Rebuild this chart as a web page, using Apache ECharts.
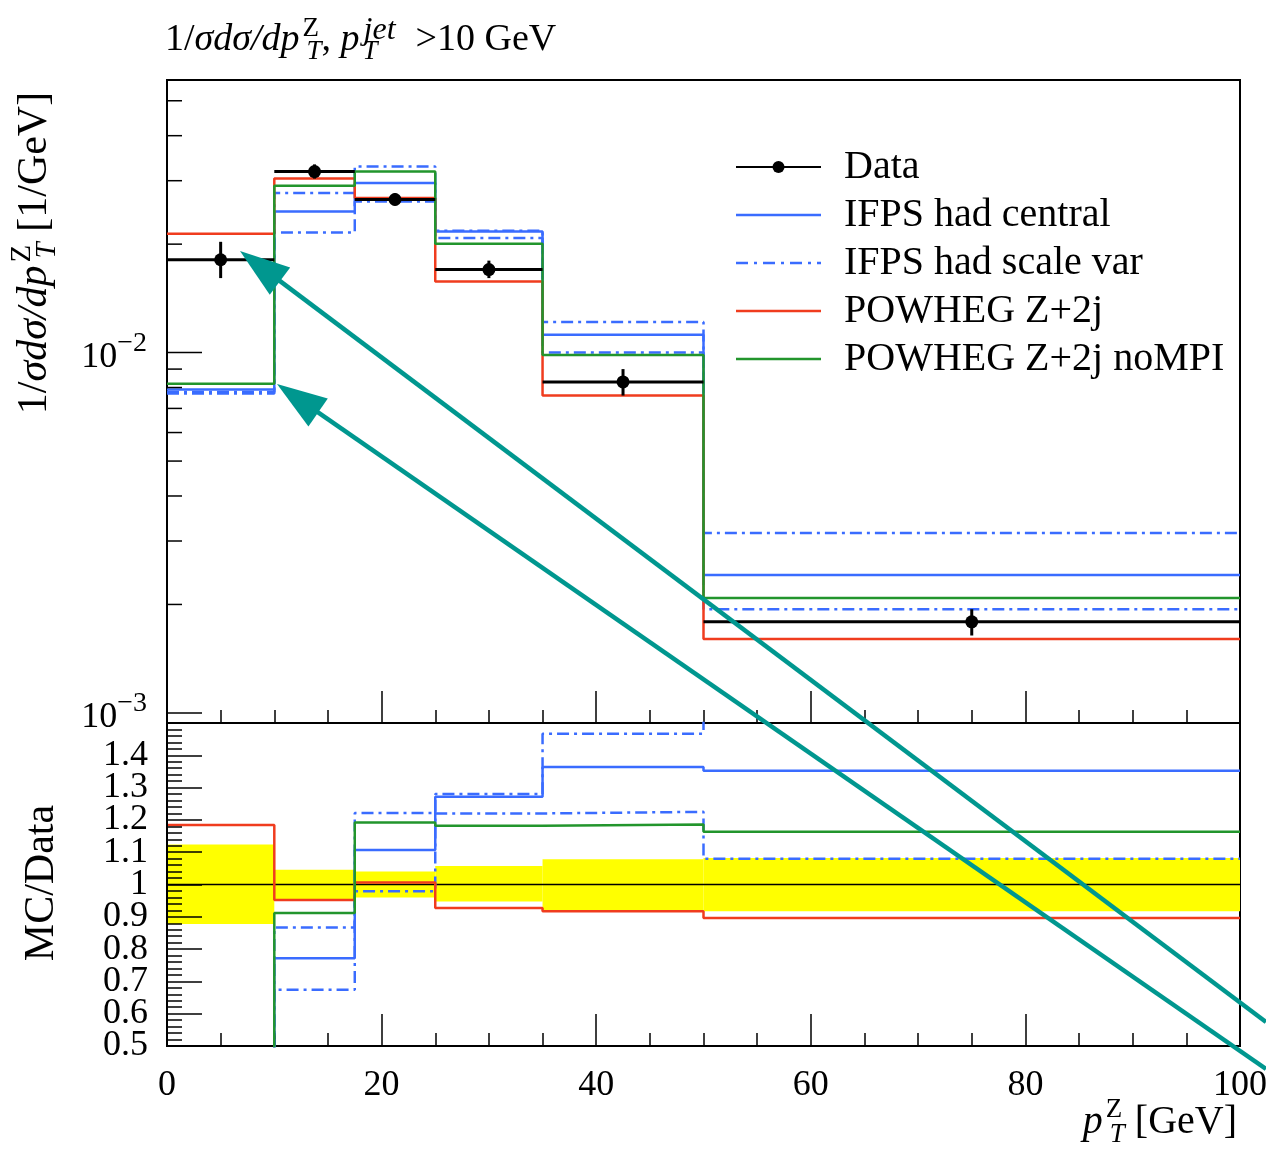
<!DOCTYPE html>
<html><head><meta charset="utf-8">
<script src="https://cdn.jsdelivr.net/npm/echarts@6/dist/echarts.min.js"></script>
<style>html,body{margin:0;padding:0;background:#fff}#c{width:1266px;height:1149px}</style>
</head><body><div id="c"></div>
<script>
// ---------------- data ----------------
const binEdges = [0, 10, 17.5, 25, 35, 50, 100];
const xTickLabels = [0, 20, 40, 60, 80, 100];
const ratioTickLabels = [0.5, 0.6, 0.7, 0.8, 0.9, 1, 1.1, 1.2, 1.3, 1.4];

// top panel: 1/sigma dsigma/dpT [1/GeV]
const dataValues = [0.0181, 0.0318, 0.0266, 0.0170, 0.00829, 0.00179];
const dataErrLo  = [0.0161, 0.0304, 0.0256, 0.0161, 0.0076, 0.00164];
const dataErrHi  = [0.0203, 0.0333, 0.0277, 0.0180, 0.0090, 0.00194];
const ifpsCentral = [0.0079, 0.02465, 0.02955, 0.02169, 0.0112, 0.002413];
const ifpsScaleUp = [0.00778, 0.02772, 0.03286, 0.0218, 0.01217, 0.003155];
const ifpsScaleDn = [0.00770, 0.02155, 0.02627, 0.02079, 0.0100, 0.001941];
const powhegZ2j   = [0.02137, 0.0304, 0.02685, 0.01575, 0.0076, 0.001603];
const powhegNoMPI = [0.00819, 0.02904, 0.03184, 0.02004, 0.00985, 0.002084];

// ratio panel: MC/Data
const ratioCentral = [0.44, 0.772, 1.107, 1.272, 1.364, 1.352];
const ratioScaleUp = [0.43, 0.867, 1.221, 1.28, 1.467, 1.77];
const ratioScaleDn = [0.425, 0.674, 0.979, 1.22, 1.225, 1.08];
const ratioPowheg  = [1.184, 0.952, 1.006, 0.927, 0.917, 0.896];
const ratioNoMPI   = [0.45, 0.912, 1.192, 1.182, 1.186, 1.163];
const bandLo = [0.878, 0.955, 0.96, 0.947, 0.916, 0.917];
const bandHi = [1.124, 1.046, 1.04, 1.057, 1.078, 1.082];

// log-axis ticks of the top panel
const logTicks = [0.001,0.002,0.003,0.004,0.005,0.006,0.007,0.008,0.009,0.01,0.02,0.03,0.04,0.05];

// ---------------- styling ----------------
const F = '"Liberation Serif","DejaVu Serif",serif';
const BLUE = '#3a6cff', RED = '#f03c1e', GREEN = '#22952c', TEAL = '#00978f';
const DASHDOT = [12, 5, 3, 5];
const ICON_SOLID = 'path://M0,0H85V2.5H0Z';
const ICON_DASHDOT = 'path://M0,0H12V2.5H0Z M18,0H21V2.5H18Z M27,0H39V2.5H27Z M45,0H48V2.5H45Z M54,0H66V2.5H54Z M72,0H75V2.5H72Z M81,0H85V2.5H81Z';

function steps(vals) {
  const pts = [];
  for (let i = 0; i < vals.length; i++) {
    pts.push([binEdges[i], vals[i]]);
    pts.push([binEdges[i + 1], vals[i]]);
  }
  return pts;
}
function dataPts(vals) {
  const pts = [];
  for (let i = 0; i < vals.length; i++) {
    const c = (binEdges[i] + binEdges[i + 1]) / 2;
    pts.push({value: [binEdges[i], vals[i]], symbol: 'none'});
    pts.push({value: [c, vals[i]]});
    pts.push({value: [binEdges[i + 1], vals[i]], symbol: 'none'});
    pts.push({value: [binEdges[i + 1], '-'], symbol: 'none'});
  }
  return pts;
}
function mcLine(name, vals, color, dash, gi) {
  return {
    name: name, type: 'line', xAxisIndex: gi, yAxisIndex: gi,
    data: steps(vals), symbol: 'none', z: 2,
    lineStyle: {color: color, width: 2.5, type: dash || 'solid'},
    itemStyle: {color: color}
  };
}

const axisLabelStyle = {fontFamily: F, fontSize: 36, color: '#000'};

function makeRich(main, small) {
  const base = {fontFamily: F, fill: '#000', align: 'left'};
  return {
    n:    Object.assign({}, base, {fontSize: main, lineHeight: main + 12}),
    g:    Object.assign({}, base, {fontSize: main, lineHeight: main + 12, padding: [0, 0, 0, 16]}),
    i:    Object.assign({}, base, {fontSize: main, fontStyle: 'italic', lineHeight: main + 12}),
    supw: Object.assign({}, base, {fontSize: small, lineHeight: small, verticalAlign: 'top', width: 1, padding: [0, 0, 0, 3]}),
    supi: Object.assign({}, base, {fontSize: small + 5, fontStyle: 'italic', lineHeight: small, verticalAlign: 'top', padding: [0, 4, 0, 0]}),
    sub:  Object.assign({}, base, {fontSize: small, fontStyle: 'italic', lineHeight: small, verticalAlign: 'bottom', padding: [0, 0, 0, 3]}),
    subw: Object.assign({}, base, {fontSize: small, fontStyle: 'italic', lineHeight: small, verticalAlign: 'bottom', width: 1, padding: [0, 0, 0, 3]})
  };
}
const richTitle = makeRich(38, 27);
const richYTitle = makeRich(42, 29);
const richAxis = makeRich(40, 27);

function arrow(tip, tail) {
  const dx = tail[0] - tip[0], dy = tail[1] - tip[1];
  const len = Math.sqrt(dx * dx + dy * dy);
  const ux = dx / len, uy = dy / len, nx = -uy, ny = ux;
  const L = 50, W = 17;
  const bx = tip[0] + L * ux, by = tip[1] + L * uy;
  return [
    {type: 'line', z: 100, shape: {x1: bx - 4 * ux, y1: by - 4 * uy, x2: tail[0], y2: tail[1]},
     style: {stroke: TEAL, lineWidth: 4.5}},
    {type: 'polygon', z: 100, shape: {points: [tip, [bx + W * nx, by + W * ny], [bx - W * nx, by - W * ny]]},
     style: {fill: TEAL}}
  ];
}

const series = [
  mcLine('IFPS had central', ifpsCentral, BLUE, null, 0),
  mcLine('IFPS had scale var', ifpsScaleUp, BLUE, DASHDOT, 0),
  mcLine('IFPS had scale var', ifpsScaleDn, BLUE, DASHDOT, 0),
  mcLine('POWHEG Z+2j', powhegZ2j, RED, null, 0),
  mcLine('POWHEG Z+2j noMPI', powhegNoMPI, GREEN, null, 0),
  {
    name: 'Data', type: 'line', xAxisIndex: 0, yAxisIndex: 0, z: 4,
    data: dataPts(dataValues), symbol: 'circle', symbolSize: 13,
    connectNulls: false,
    lineStyle: {color: '#000', width: 3}, itemStyle: {color: '#000'}
  },
  {
    type: 'custom', xAxisIndex: 0, yAxisIndex: 0, z: 4,
    data: dataValues.map((v, i) => [(binEdges[i] + binEdges[i + 1]) / 2, dataErrLo[i], dataErrHi[i]]),
    encode: {x: 0, y: [1, 2]},
    renderItem: function (params, api) {
      const a = api.coord([api.value(0), api.value(1)]);
      const b = api.coord([api.value(0), api.value(2)]);
      return {type: 'line', shape: {x1: a[0], y1: a[1], x2: b[0], y2: b[1]},
              style: {stroke: '#000', lineWidth: 3}};
    }
  },
  {
    type: 'custom', xAxisIndex: 0, yAxisIndex: 0, z: 5,
    data: logTicks.map(v => [Math.abs(Math.log10(v) - Math.round(Math.log10(v))) < 1e-6 ? 1 : 0, v]),
    encode: {x: 0, y: 1},
    renderItem: function (params, api) {
      const major = api.value(0);
      const p = api.coord([0, api.value(1)]);
      return {type: 'line', shape: {x1: p[0], y1: p[1], x2: p[0] + (major ? 35 : 15), y2: p[1]},
              style: {stroke: '#000', lineWidth: 1.5}};
    }
  },
  // ratio panel
  {
    type: 'custom', xAxisIndex: 1, yAxisIndex: 1, z: 1,
    data: bandLo.map((lo, i) => [binEdges[i], binEdges[i + 1], lo, bandHi[i]]),
    encode: {x: [0, 1], y: [2, 3]},
    renderItem: function (params, api) {
      const a = api.coord([api.value(0), api.value(3)]);
      const b = api.coord([api.value(1), api.value(2)]);
      return {type: 'rect', shape: {x: a[0], y: a[1], width: b[0] - a[0], height: b[1] - a[1]},
              style: {fill: '#ffff00'}};
    }
  },
  {
    type: 'line', xAxisIndex: 1, yAxisIndex: 1, z: 2, symbol: 'none',
    data: [[binEdges[0], 1], [binEdges[binEdges.length - 1], 1]],
    lineStyle: {color: '#000', width: 1.5}
  },
  mcLine('IFPS had central', ratioCentral, BLUE, null, 1),
  mcLine('IFPS had scale var', ratioScaleUp, BLUE, DASHDOT, 1),
  mcLine('IFPS had scale var', ratioScaleDn, BLUE, DASHDOT, 1),
  mcLine('POWHEG Z+2j', ratioPowheg, RED, null, 1),
  mcLine('POWHEG Z+2j noMPI', ratioNoMPI, GREEN, null, 1),
  {
    // tick labels of the ratio axis (placed through the axis scale)
    type: 'custom', xAxisIndex: 1, yAxisIndex: 1, z: 5, silent: true,
    data: ratioTickLabels.map(v => [0, v]),
    encode: {x: 0, y: 1},
    renderItem: function (params, api) {
      const v = api.value(1);
      const p = api.coord([0, v]);
      return {type: 'text', x: p[0] - 19, y: p[1],
              style: {text: String(v), fontFamily: F, fontSize: 36, fill: '#000',
                      align: 'right', verticalAlign: 'middle', textAlign: 'right', textVerticalAlign: 'middle'}};
    }
  }
];

const xAxisBase = {
  type: 'value', min: xTickLabels[0], max: xTickLabels[xTickLabels.length - 1], interval: 20,
  axisLine: {show: true, lineStyle: {color: '#000', width: 2}},
  axisTick: {show: true, inside: true, length: 32, lineStyle: {color: '#000', width: 1.5}},
  minorTick: {show: true, splitNumber: 4, length: 13, lineStyle: {color: '#000', width: 1.5}},
  splitLine: {show: false}, minorSplitLine: {show: false}
};

const option = {
  animation: false,
  backgroundColor: '#fff',
  grid: [
    {left: 167, top: 80, width: 1073, height: 643, show: true, borderColor: '#000', borderWidth: 2,
     backgroundColor: 'transparent', containLabel: false, outerBoundsMode: 'none'},
    {left: 167, top: 723, width: 1073, height: 323, show: true, borderColor: '#000', borderWidth: 2,
     backgroundColor: 'transparent', containLabel: false, outerBoundsMode: 'none'}
  ],
  xAxis: [
    Object.assign({}, xAxisBase, {gridIndex: 0, axisLabel: {show: false}}),
    Object.assign({}, xAxisBase, {gridIndex: 1,
      axisLabel: Object.assign({show: true, margin: 22, showMinLabel: true, showMaxLabel: true}, axisLabelStyle)})
  ],
  yAxis: [
    {
      type: 'log', logBase: 10, gridIndex: 0,
      min: Math.pow(10, -3.028), max: Math.pow(10, -1.2434),
      axisLine: {show: true, lineStyle: {color: '#000', width: 2}},
      axisTick: {show: false}, splitLine: {show: false},
      axisLabel: {
        show: true, margin: 20,
        formatter: function (v) {
          const e = Math.log10(v);
          if (Math.abs(e - Math.round(e)) > 1e-6) return '';
          return '{b|10}{s|\u2212' + Math.abs(Math.round(e)) + '}';
        },
        rich: {
          b: {fontFamily: F, fontSize: 36, color: '#000', lineHeight: 46, verticalAlign: 'bottom'},
          s: {fontFamily: F, fontSize: 28, color: '#000', lineHeight: 28, verticalAlign: 'top'}
        }
      }
    },
    {
      type: 'value', gridIndex: 1, min: 0.5, max: 1.5, interval: 0.1, z: 3,
      axisLine: {show: true, lineStyle: {color: '#000', width: 2}},
      axisTick: {show: true, inside: true, length: 35, lineStyle: {color: '#000', width: 1.5}},
      minorTick: {show: true, splitNumber: 5, length: 15, lineStyle: {color: '#000', width: 1.5}},
      splitLine: {show: false}, minorSplitLine: {show: false},
      axisLabel: {show: false}
    }
  ],
  legend: {
    show: true, orient: 'vertical', left: 735, top: 143, padding: 0,
    itemWidth: 85, itemHeight: 15, itemGap: 0, selectedMode: false,
    data: [
      {name: 'Data'},
      {name: 'IFPS had central', icon: ICON_SOLID},
      {name: 'IFPS had scale var', icon: ICON_DASHDOT},
      {name: 'POWHEG Z+2j', icon: ICON_SOLID},
      {name: 'POWHEG Z+2j noMPI', icon: ICON_SOLID}
    ],
    textStyle: {fontFamily: F, fontSize: 40, color: '#000', lineHeight: 48, padding: [0, 0, 0, 18]}
  },
  series: series,
  graphic: [
    {type: 'text', x: 165, y: 40, z: 50, style: {
      text: '{n|1/}{i|\u03c3d\u03c3/dp}{supw|Z}{sub|T}{n|, }{i|p}{subw|T}{supi|jet}{g|>10 GeV}',
      rich: richTitle, align: 'left', verticalAlign: 'middle'}},
    {type: 'text', x: 35, y: 253, rotation: Math.PI / 2, z: 50, style: {
      text: '{n|1/}{i|\u03c3d\u03c3/dp}{supw|Z}{sub|T}{n| [1/GeV]}',
      rich: richYTitle, align: 'center', verticalAlign: 'middle'}},
    {type: 'text', x: 42, y: 883, rotation: Math.PI / 2, z: 50, style: {
      text: '{n|MC/Data}', rich: richYTitle, align: 'center', verticalAlign: 'middle'}},
    {type: 'text', x: 1237, y: 1122, z: 50, style: {
      text: '{i|p}{supw|Z}{sub|T}{n| [GeV]}', rich: richAxis, align: 'right', verticalAlign: 'middle'}}
  ].concat(arrow([240, 251], [1266, 1022])).concat(arrow([277, 384], [1266, 1069]))
};

const chart = echarts.init(document.getElementById('c'), null, {renderer: 'canvas'});
chart.setOption(option);
</script>
</body></html>
